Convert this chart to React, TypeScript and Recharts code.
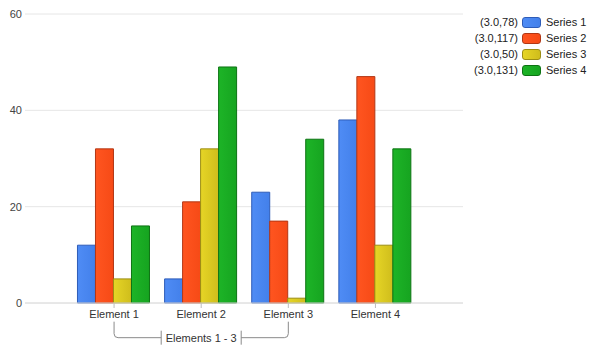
import { BarChart, Bar, XAxis, YAxis, CartesianGrid, ReferenceLine } from "recharts";

const categories = ["Element 1", "Element 2", "Element 3", "Element 4"];
const series1 = [12, 5, 23, 38];
const series2 = [32, 21, 17, 47];
const series3 = [5, 32, 1, 12];
const series4 = [16, 49, 34, 32];
const seriesNames = ["Series 1", "Series 2", "Series 3", "Series 4"];
const legendValues = ["(3.0,78)", "(3.0,117)", "(3.0,50)", "(3.0,131)"];
const yTicks = [0, 20, 40, 60];
const bracketLabel = "Elements 1 - 3";

const colors = [
  { light: "#4f8cf5", dark: "#4380ea", stroke: "#2e5cb8" },
  { light: "#ff5520", dark: "#f64a16", stroke: "#b23715" },
  { light: "#e6d526", dark: "#cfbd1c", stroke: "#9c8e14" },
  { light: "#1db427", dark: "#16a420", stroke: "#0d7313" },
];

const font = "'Liberation Sans', Arial, sans-serif";

const data = categories.map((name, i) => ({
  name,
  s1: series1[i],
  s2: series2[i],
  s3: series3[i],
  s4: series4[i],
}));

const keys = ["s1", "s2", "s3", "s4"];

function BracketLabel(props: any) {
  const { viewBox } = props;
  if (!viewBox) return null;
  const x0 = viewBox.x;
  const x1 = viewBox.x + viewBox.width;
  const y = viewBox.y;
  const cx = (x0 + x1) / 2;
  const top = y - 16;
  const r = 4;
  const gap = 40;
  const stroke = "#8a8a8a";
  return (
    <g>
      <path
        d={`M${x0},${top} L${x0},${y - r} Q${x0},${y} ${x0 + r},${y} L${cx - gap},${y}`}
        fill="none"
        stroke={stroke}
      />
      <path
        d={`M${x1},${top} L${x1},${y - r} Q${x1},${y} ${x1 - r},${y} L${cx + gap},${y}`}
        fill="none"
        stroke={stroke}
      />
      <line x1={cx - gap} x2={cx - gap} y1={y - 7} y2={y + 7} stroke={stroke} />
      <line x1={cx + gap} x2={cx + gap} y1={y - 7} y2={y + 7} stroke={stroke} />
      <text x={cx} y={y} textAnchor="middle" dominantBaseline="central" fontSize={11} fontFamily={font} fill="#333">
        {bracketLabel}
      </text>
    </g>
  );
}

export default function App() {
  return (
    <div style={{ position: "absolute", left: 0, top: 0, width: 592, height: 354, background: "#fff" }}>
      <BarChart
        width={592}
        height={354}
        data={data}
        margin={{ top: 14, right: 129, bottom: 0, left: 0 }}
        barCategoryGap="8%"
        barGap={0}
      >
        <defs>
          {colors.map((c, i) => (
            <linearGradient key={i} id={`g${i}`} x1="0" y1="0" x2="1" y2="0">
              <stop offset="0%" stopColor={c.light} />
              <stop offset="100%" stopColor={c.dark} />
            </linearGradient>
          ))}
        </defs>
        <CartesianGrid vertical={false} stroke="#e6e6e6" />
        <XAxis
          dataKey="name"
          height={51}
          padding={{ left: 45.5, right: 44 }}
          axisLine={{ stroke: "#dcdcdc" }}
          tickLine={{ stroke: "#bdbdbd" }}
          tickSize={5}
          tick={{ fontSize: 11, fill: "#333", fontFamily: font }}
        />
        <YAxis
          width={25}
          domain={[0, 60]}
          ticks={yTicks}
          axisLine={false}
          tickLine={false}
          tickSize={1}
          tickMargin={2}
          tick={{ fontSize: 11, fill: "#444", fontFamily: font }}
        />
        {keys.map((k, i) => (
          <Bar
            key={k}
            dataKey={k}
            name={seriesNames[i]}
            fill={`url(#g${i})`}
            stroke={colors[i].stroke}
            strokeWidth={1}
            isAnimationActive={false}
          />
        ))}
        <ReferenceLine
          segment={[
            { x: categories[0], y: -7.2 },
            { x: categories[2], y: -7.2 },
          ]}
          ifOverflow="visible"
          stroke="none"
          label={<BracketLabel />}
        />
      </BarChart>
      {seriesNames.map((name, i) => (
        <div
          key={name}
          style={{
            position: "absolute",
            top: 15 + i * 16,
            left: 440,
            width: 152,
            height: 14,
            display: "flex",
            alignItems: "center",
            fontFamily: font,
            fontSize: 11,
            color: "#222",
          }}
        >
          <span style={{ width: 78, textAlign: "right" }}>{legendValues[i]}</span>
          <span
            style={{
              width: 17,
              height: 9,
              marginLeft: 4,
              marginRight: 5,
              borderRadius: 3,
              background: `linear-gradient(to right, ${colors[i].light}, ${colors[i].dark})`,
              border: `1px solid ${colors[i].stroke}`,
            }}
          />
          <span>{name}</span>
        </div>
      ))}
    </div>
  );
}
